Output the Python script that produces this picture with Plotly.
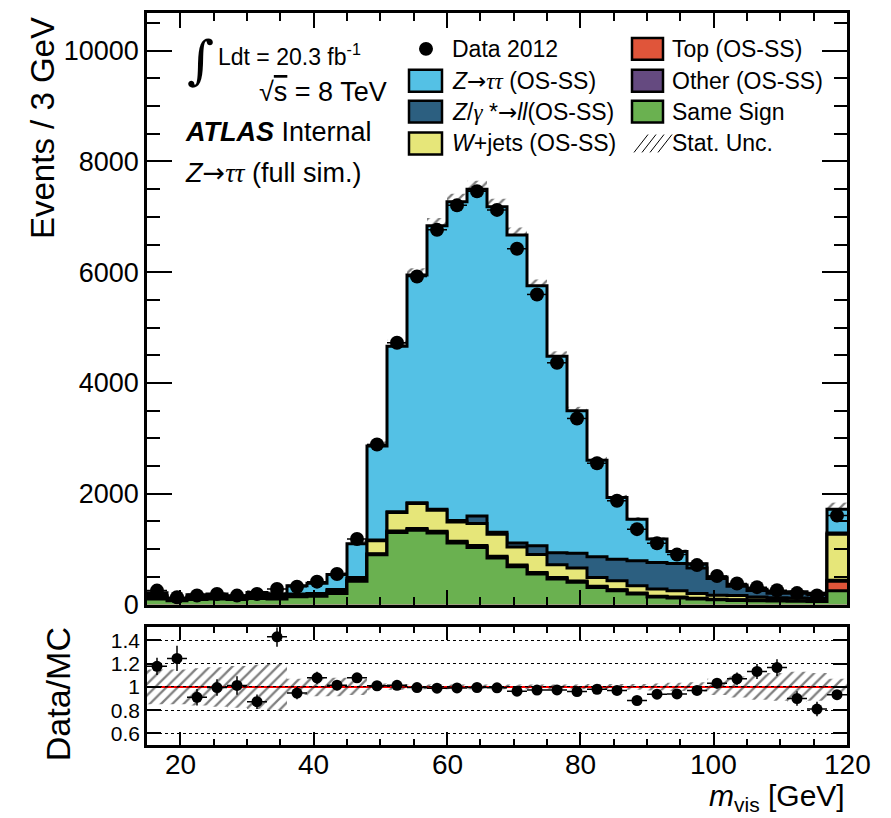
import numpy as np
import plotly.graph_objects as go

# ---------------- data ----------------
bin_edges = list(range(15, 121, 3))  # 15..120 GeV, 3 GeV bins (last bin incl. overflow)

data_2012 = [252, 132, 163, 192, 162, 192, 282, 323, 414, 552, 1183, 2891, 4727, 5922, 6765,
             7207, 7463, 7125, 6425, 5599, 4365, 3360, 2552, 1874, 1362, 1108, 902, 713, 516,
             380, 315, 259, 207, 166, 1606]
same_sign = [100, 70, 90, 100, 90, 110, 100, 140, 150, 200, 420, 900, 1300, 1340, 1290, 1110,
             1030, 840, 684, 552, 462, 402, 310, 250, 190, 135, 120, 100, 85, 75, 70, 65, 60, 55, 250]
top_osss = [3, 2, 2, 3, 3, 3, 3, 4, 4, 5, 8, 10, 15, 18, 20, 20, 20, 18, 16, 15, 14, 13, 12, 11,
            10, 10, 9, 8, 8, 7, 7, 6, 6, 6, 170]
other_osss = [5, 3, 4, 4, 4, 5, 5, 6, 6, 7, 10, 8, 12, 14, 15, 15, 15, 14, 13, 12, 11, 10, 9, 8,
              8, 7, 6, 6, 5, 5, 5, 4, 4, 4, 20]
wjets_osss = [40, 10, 35, 33, 23, 42, 32, 25, 25, 38, 32, 234, 335, 452, 379, 345, 399, 398, 327,
              326, 233, 235, 159, 161, 132, 128, 115, 86, 72, 78, 53, 50, 50, 45, 830]
zll_osss = [15, 5, 10, 10, 10, 10, 10, 15, 15, 20, 20, 13, 13, 16, 16, 30, 136, 35, 70, 155, 216,
            265, 375, 390, 450, 480, 490, 460, 300, 165, 120, 80, 85, 75, 20]
ztautau_osss = [51, 16, 38, 43, 30, 50, 47, 151, 184, 274, 607, 1697, 2987, 4112, 5120, 5752, 5900,
                5877, 5562, 4694, 3546, 2575, 1739, 1112, 752, 422, 220, 75, 30, 25, 23, 17, 25, 20, 430]
mc_stat_rel = [0.15, 0.15, 0.16, 0.17, 0.18, 0.19, 0.20, 0.07, 0.08, 0.08, 0.07, 0.03, 0.025, 0.02,
               0.02, 0.02, 0.02, 0.02, 0.02, 0.02, 0.02, 0.02, 0.025, 0.025, 0.025, 0.03, 0.035,
               0.04, 0.07, 0.09, 0.11, 0.12, 0.13, 0.12, 0.07]

main_yticks = [0, 2000, 4000, 6000, 8000, 10000]
ratio_yticks = [0.6, 0.8, 1.0, 1.2, 1.4]
ratio_yticklabels = ["0.6", "0.8", "1", "1.2", "1.4"]
x_ticks = [20, 40, 60, 80, 100, 120]

comp_names = ["Same Sign", "Top (OS-SS)", "Other (OS-SS)", "W+jets (OS-SS)",
              "Z/γ*→ll(OS-SS)", "Z→ττ (OS-SS)"]
comp_colors = ["#6ab150", "#e0553a", "#654a80", "#e6e679", "#2c5f80", "#54c1e5"]

# ---------------- derived ----------------
edges = np.array(bin_edges, dtype=float)
centers = 0.5 * (edges[:-1] + edges[1:])
widths = np.diff(edges)
comps = np.array([same_sign, top_osss, other_osss, wjets_osss, zll_osss, ztautau_osss], dtype=float)
cum = np.cumsum(comps, axis=0)
total = cum[-1]
data = np.array(data_2012, dtype=float)
rel = np.array(mc_stat_rel)
ratio = data / total
ratio_err = np.sqrt(data) / total

# ---------------- layout helpers ----------------
W, H = 891, 818
ML, MR, MT, MB = 147, 44, 10, 73
PW, PH = W - ML - MR, H - MT - MB


def px(x):
    return (x - ML) / PW


def py(y):
    return (H - MB - y) / PH


FONT = "Liberation Sans"
ARROW = "<span style='font-family:DejaVu Sans'>→</span>"
TAU2 = "<span style='font-family:Liberation Serif'><i>ττ</i></span>"
GAMMA = "<span style='font-family:Liberation Serif'><i>γ</i></span>"

hatch = dict(shape="/", fgcolor="black", bgcolor="rgba(0,0,0,0)", size=8, solidity=0.28)

fig = go.Figure()

# stacked step histograms (top-most cumulative first)
for i in reversed(range(len(comps))):
    fig.add_trace(go.Scatter(
        x=edges, y=np.append(cum[i], cum[i][-1]), mode="lines",
        line=dict(shape="hv", color="black", width=3),
        fill="tozeroy", fillcolor=comp_colors[i], name=comp_names[i],
        xaxis="x", yaxis="y", hoverinfo="skip"))

# stat. uncertainty hatch (main)
fig.add_trace(go.Bar(
    x=centers, base=total * (1 - rel), y=2 * rel * total, width=widths,
    marker=dict(color="rgba(0,0,0,0)", line=dict(width=0), pattern=hatch),
    xaxis="x", yaxis="y", hoverinfo="skip"))

# data
fig.add_trace(go.Scatter(
    x=centers, y=data, mode="markers",
    marker=dict(color="black", size=14),
    error_y=dict(type="data", array=np.sqrt(data), color="black", thickness=1.5, width=0),
    error_x=dict(type="data", array=widths / 2, color="black", thickness=1.5, width=0),
    xaxis="x", yaxis="y", name="Data 2012"))

# ratio hatch
fig.add_trace(go.Bar(
    x=centers, base=1 - rel, y=2 * rel, width=widths,
    marker=dict(color="rgba(0,0,0,0)", line=dict(width=0), pattern=hatch),
    xaxis="x2", yaxis="y2", hoverinfo="skip"))

# ratio points
fig.add_trace(go.Scatter(
    x=centers, y=ratio, mode="markers",
    marker=dict(color="black", size=11),
    error_y=dict(type="data", array=ratio_err, color="black", thickness=1.5, width=0),
    error_x=dict(type="data", array=widths / 2, color="black", thickness=1.5, width=0),
    xaxis="x2", yaxis="y2"))

axis_common = dict(showline=True, linewidth=2.5, linecolor="black", mirror="ticks",
                   ticks="inside", tickcolor="black", tickwidth=1.5, zeroline=False)

fig.update_layout(
    width=W, height=H, margin=dict(l=ML, r=MR, t=MT, b=MB),
    paper_bgcolor="white", plot_bgcolor="white", showlegend=False,
    barmode="overlay", font=dict(family=FONT, color="black"),
    xaxis=dict(domain=[0, 1], range=[15, 120], anchor="y", showticklabels=False,
               tickmode="array", tickvals=x_ticks, ticklen=15, showgrid=False,
               minor=dict(dtick=5, tick0=0, ticklen=8, ticks="inside", tickcolor="black",
                          tickwidth=1.5, showgrid=False),
               **axis_common),
    yaxis=dict(domain=[py(604), 1], range=[0, 10680], anchor="x",
               tickmode="array", tickvals=main_yticks, ticktext=[str(v) for v in main_yticks],
               ticklen=25, showgrid=False, tickfont=dict(size=27, family=FONT),
               minor=dict(dtick=500, tick0=0, ticklen=13, ticks="inside", tickcolor="black",
                          tickwidth=1.5, showgrid=False),
               **axis_common),
    xaxis2=dict(domain=[0, 1], range=[15, 120], anchor="y2", tickmode="array", tickvals=x_ticks,
                ticklen=13, showgrid=False, showticklabels=False,
                minor=dict(dtick=5, tick0=0, ticklen=6, ticks="inside", tickcolor="black",
                           tickwidth=1.5, showgrid=False),
                **axis_common),
    yaxis2=dict(domain=[0, py(627)], range=[0.5, 1.512], anchor="x2",
                tickmode="array", tickvals=ratio_yticks, ticktext=ratio_yticklabels,
                ticklen=14, showgrid=True, griddash="dot", gridcolor="black", gridwidth=1,
                tickfont=dict(size=21, family=FONT),
                **axis_common),
)

# red line at 1 in ratio
fig.add_shape(type="line", xref="x2", yref="y2", x0=15, x1=120, y0=1, y1=1,
              line=dict(color="red", width=2), layer="below")

ann = []


def text(t, x, y, size, xanchor="left", yanchor="middle", angle=0, family=FONT):
    ann.append(dict(text=t, x=px(x), y=py(y), xref="paper", yref="paper", showarrow=False,
                    xanchor=xanchor, yanchor=yanchor, textangle=angle,
                    font=dict(size=size, family=family, color="black")))


# x tick labels of the ratio panel (placed as in the reference)
for v in x_ticks:
    ann.append(dict(text=str(v), x=v, xref="x2", y=py(765), yref="paper", showarrow=False,
                    xanchor="center", yanchor="middle",
                    font=dict(size=28, family=FONT, color="black")))

# upper-left labels
text("∫", 200, 57, 52, xanchor="center", family="DejaVu Serif")
text("Ldt = 20.3 fb<sup>-1</sup>", 216, 52, 23)
text("√<span style='text-decoration:overline'>s</span> = 8 TeV", 389, 89, 27, xanchor="right")
text("<b><i>ATLAS</i></b> Internal", 183, 129, 27)
text("<i>Z</i>" + ARROW + TAU2 + " (full sim.)", 183, 170, 27)

# axis titles
text("Events / 3 GeV", 43, 12, 33, xanchor="center", yanchor="top", angle=-90)
text("Data/MC", 58, 694, 34, xanchor="center", yanchor="middle", angle=-90)
text("<i>m</i><sub>vis</sub> [GeV]", 847, 818, 30, xanchor="right", yanchor="bottom")

# manual legend
rows = [46, 78, 109, 141]
c1_box, c2_box = (409, 442), (632, 663)
c1_txt, c2_txt = 450, 670
lfs = 23
shapes = []
shapes.append(dict(type="circle", xref="paper", yref="paper",
                   x0=px(426 - 7), x1=px(426 + 7), y0=py(rows[0] + 7), y1=py(rows[0] - 7),
                   fillcolor="black", line=dict(color="black", width=0)))
text("Data 2012", c1_txt, rows[0], lfs)


def legbox(col, row, color):
    x0, x1 = col
    shapes.append(dict(type="rect", xref="paper", yref="paper",
                       x0=px(x0), x1=px(x1), y0=py(row + 11), y1=py(row - 11),
                       fillcolor=color, line=dict(color="black", width=2.5)))


legbox(c1_box, rows[1], comp_colors[5])
text("<i>Z</i>" + ARROW + TAU2 + " (OS-SS)", c1_txt, rows[1], lfs)
legbox(c1_box, rows[2], comp_colors[4])
text("<i>Z</i>/" + GAMMA + " *" + ARROW + "<i>ll</i>(OS-SS)", c1_txt, rows[2], lfs)
legbox(c1_box, rows[3], comp_colors[3])
text("<i>W</i>+jets (OS-SS)", c1_txt, rows[3], lfs)

legbox(c2_box, rows[0], comp_colors[1])
text("Top (OS-SS)", c2_txt, rows[0], lfs)
legbox(c2_box, rows[1], comp_colors[2])
text("Other (OS-SS)", c2_txt, rows[1], lfs)
legbox(c2_box, rows[2], comp_colors[0])
text("Same Sign", c2_txt, rows[2], lfs)
for k in range(4):
    xa = 634 + 8 * k
    shapes.append(dict(type="line", xref="paper", yref="paper",
                       x0=px(xa), y0=py(rows[3] + 9), x1=px(xa + 14), y1=py(rows[3] - 9),
                       line=dict(color="black", width=1)))
text("Stat. Unc.", c2_txt, rows[3], lfs)

for s in shapes:
    fig.add_shape(**s)
fig.update_layout(annotations=ann)

fig.write_html("out.html")
